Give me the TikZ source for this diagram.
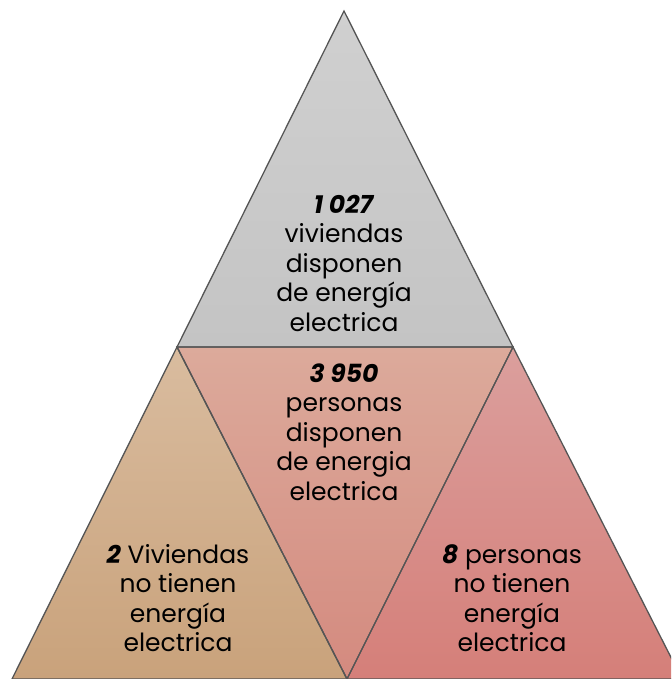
\documentclass[tikz,border=0pt]{standalone}
\usepackage{fontspec}
\setmainfont{Poppins}
\definecolor{grayT}{HTML}{D0D0D0}
\definecolor{grayB}{HTML}{C4C4C4}
\definecolor{midT}{HTML}{DCAA9B}
\definecolor{midB}{HTML}{D48A7F}
\definecolor{leftT}{HTML}{D9BC9F}
\definecolor{leftB}{HTML}{C9A27B}
\definecolor{rightT}{HTML}{DB9F9D}
\definecolor{rightB}{HTML}{D57F79}
\definecolor{edge}{HTML}{555555}
\tikzset{
  tri/.style={draw=edge, line width=1.3pt, line join=miter},
  lbl/.style={align=center, font=\fontsize{25}{29.5}\selectfont, text=black, inner sep=0pt}
}
\begin{document}
\begin{tikzpicture}[x=1pt,y=-1pt]
\useasboundingbox (0,0) rectangle (671,679);
\coordinate (A) at (344,11);
\coordinate (L) at (177,347);
\coordinate (R) at (513,347);
\coordinate (BL) at (12,679);
\coordinate (BM) at (347,679);
\coordinate (BR) at (682,679);
\begin{scope}
\clip (0,0) rectangle (671,679);
\shade[top color=grayT, bottom color=grayB] (A) -- (L) -- (R) -- cycle;
\shade[top color=leftT, bottom color=leftB] (L) -- (BL) -- (BM) -- cycle;
\shade[top color=rightT, bottom color=rightB] (R) -- (BM) -- (BR) -- cycle;
\shade[top color=midT, bottom color=midB] (L) -- (R) -- (BM) -- cycle;
\draw[tri] (A) -- (L) -- (R) -- cycle;
\draw[tri] (L) -- (BL) -- (BM) -- cycle;
\draw[tri] (R) -- (BM) -- (BR) -- cycle;
\draw[tri] (L) -- (R) -- (BM) -- cycle;
\end{scope}
\node[lbl] (top) at (344,263) {\textbf{\textit{1 027}}\\viviendas\\disponen\\de energía\\electrica};
\node[lbl] (mid) at (344,432) {\textbf{\textit{3 950}}\\personas\\disponen\\de energia\\electrica};
\node[lbl] (lft) at (178,598) {\textbf{\textit{2}} Viviendas\\no tienen\\energía\\electrica};
\node[lbl] (rgt) at (512,598) {\textbf{\textit{8}} personas\\no tienen\\energía\\electrica};
\end{tikzpicture}
\end{document}
